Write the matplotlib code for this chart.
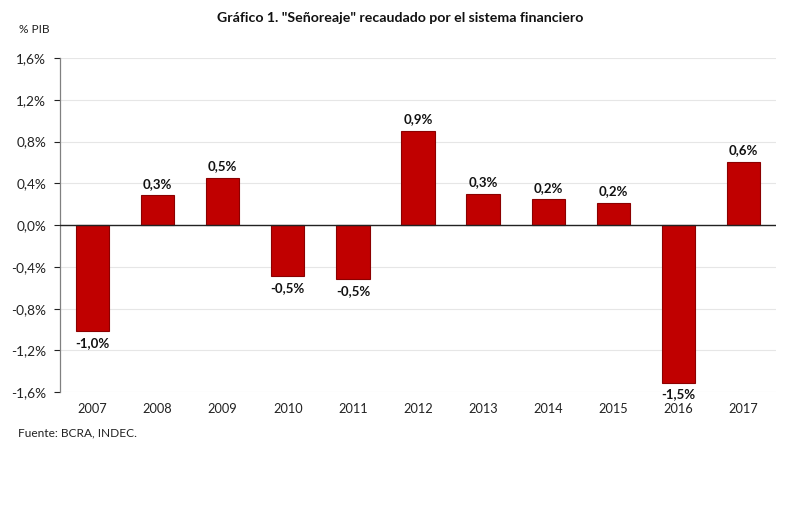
import matplotlib
matplotlib.use("Agg")
import matplotlib.pyplot as plt
from matplotlib.ticker import FuncFormatter

years = ["2007", "2008", "2009", "2010", "2011", "2012", "2013", "2014", "2015", "2016", "2017"]
values = [-1.015, 0.287, 0.453, -0.489, -0.517, 0.903, 0.297, 0.246, 0.214, -1.51, 0.606]
labels = ["-1,0%", "0,3%", "0,5%", "-0,5%", "-0,5%", "0,9%", "0,3%", "0,2%", "0,2%", "-1,5%", "0,6%"]
yticks = [-1.6, -1.2, -0.8, -0.4, 0.0, 0.4, 0.8, 1.2, 1.6]

plt.rcParams['font.family'] = ['Lato', 'DejaVu Sans']

fig = plt.figure(figsize=(8, 5.14), dpi=100)
ax = fig.add_axes([0.075, 0.237, 0.895, 0.65])

x = list(range(len(years)))
ax.bar(x, values, width=0.51, color="#C00000", edgecolor="#8B0000", linewidth=0.8, zorder=3)

ax.set_ylim(-1.6, 1.6)
ax.set_xlim(-0.5, len(years) - 0.5)
ax.set_yticks(yticks)
ax.yaxis.set_major_formatter(FuncFormatter(lambda v, p: f"{v:.1f}%".replace(".", ",")))
ax.set_xticks(x)
ax.set_xticklabels(years)
ax.tick_params(axis='x', length=0, pad=8, labelsize=9.2, colors="#222222")
ax.tick_params(axis='y', length=4, width=0.8, direction='out', pad=6, labelsize=9.8, colors="#222222")
ax.grid(axis='y', color="#E6E6E6", linewidth=0.8, zorder=0)
for s in ["top", "right", "bottom"]:
    ax.spines[s].set_visible(False)
ax.spines["left"].set_color("#808080")
ax.spines["left"].set_linewidth(0.9)
ax.axhline(0, color="#222222", linewidth=1.0, zorder=4)

for xi, v, lab in zip(x, values, labels):
    if v >= 0:
        ax.annotate(lab, (xi, v), xytext=(0, 4), textcoords="offset points",
                    ha="center", va="bottom", fontsize=9.5, fontweight="bold", color="#111111")
    else:
        ax.annotate(lab, (xi, v), xytext=(0, -4), textcoords="offset points",
                    ha="center", va="top", fontsize=9.5, fontweight="bold", color="#111111")

fig.text(0.5, 0.965, 'Gráfico 1. "Señoreaje" recaudado por el sistema financiero',
         ha="center", va="center", fontsize=10.2, fontweight="bold", color="#111111")
fig.text(0.024, 0.942, "% PIB", ha="left", va="center", fontsize=8.6, color="#222222")
fig.text(0.022, 0.157, "Fuente: BCRA, INDEC.", ha="left", va="center", fontsize=8.6, color="#222222")

fig.savefig("out.png", dpi=100, facecolor="white")
